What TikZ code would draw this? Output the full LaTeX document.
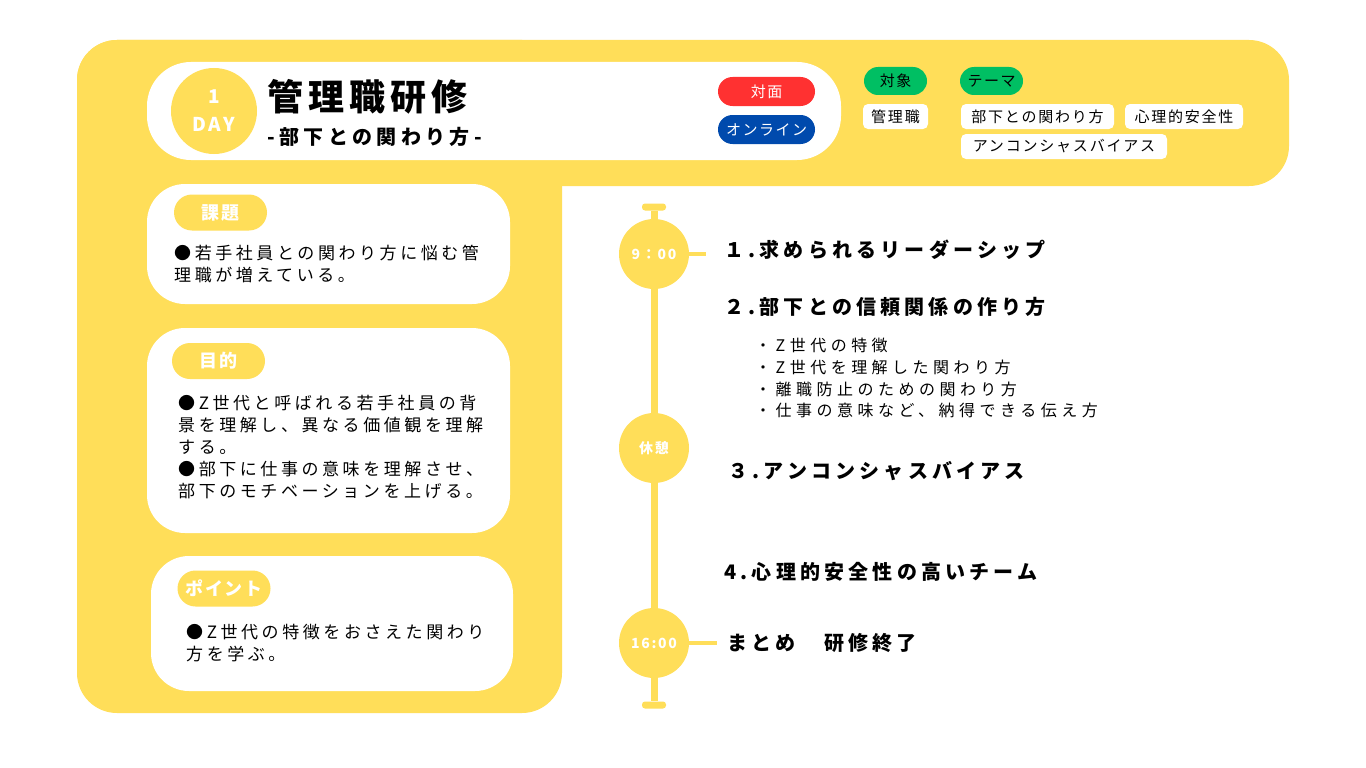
\documentclass[tikz,border=0pt]{standalone}
\usepackage{fontspec}
\setmainfont{Noto Sans CJK JP}
\newcommand\lsp[1]{\addfontfeatures{LetterSpace=#1}}
\newcommand\fsz[1]{\fontsize{#1}{#1}\selectfont}
\definecolor{ylw}{HTML}{FFDE59}
\definecolor{bdgred}{HTML}{FF3131}
\definecolor{bdgblue}{HTML}{004AAD}
\definecolor{bdggreen}{HTML}{00BF63}
\begin{document}
\begin{tikzpicture}[x=1pt,y=-1pt,
 panel/.style={fill=white, rounded corners=38pt, inner sep=0},
 ytag/.style={fill=ylw, rounded corners=18pt, inner sep=0, minimum width=93pt, minimum height=36pt, text=white, font=\fsz{18}\bfseries\lsp{10}},
 body/.style={anchor=north west, inner sep=0, align=left, font=\fontsize{17}{22}\selectfont\lsp{21}},
 daytxt/.style={inner sep=0, text=white, font=\fsz{19}\bfseries\lsp{15}},
 badge/.style={rounded corners=14.5pt, minimum width=97pt, minimum height=29pt, inner sep=0, text=white, font=\fsz{15}\lsp{10}},
 gtag/.style={fill=bdggreen, rounded corners=14pt, minimum width=63pt, minimum height=28pt, inner sep=0, font=\fsz{15}\lsp{10}},
 wtag/.style={fill=white, rounded corners=5pt, minimum height=25pt, inner sep=0, font=\fsz{15}\lsp{12}},
 capbar/.style={fill=ylw, rounded corners=3pt, minimum width=24pt, minimum height=7pt, inner sep=0},
 tcirc/.style={circle, fill=ylw, minimum size=70pt, inner sep=0, text=white, font=\fsz{14}\bfseries\lsp{12}},
 tline/.style={draw=ylw, line width=7pt},
 tconn/.style={draw=ylw, line width=3.5pt},
 item/.style={anchor=west, inner sep=0, font=\fsz{20}\bfseries\lsp{21}}
]
\useasboundingbox (0,0) rectangle (1366,768);
\fill[white] (0,0) rectangle (1366,768);
% background
\fill[ylw, rounded corners=40pt] (77,40) rectangle (1289,186);
\fill[ylw, rounded corners=40pt] (77,40) rectangle (562,713);
% header
\node[panel, rounded corners=44pt, minimum width=694pt, minimum height=98pt] (hdr) at (494,111) {};
\node[circle, fill=ylw, minimum size=86pt, inner sep=0] (day) at (214,111) {};
\node[daytxt] (one) at (214,97) {1};
\node[daytxt] (dayw) at (214,124) {DAY};
\node[anchor=west, inner sep=0, font=\fsz{36}\bfseries\lsp{14}] (title) at (267,97) {管理職研修};
\node[anchor=west, inner sep=0, font=\fsz{20}\bfseries\lsp{22}] (sub) at (267,137) {-部下との関わり方-};
\node[badge, fill=bdgred] (face) at (766.5,91.5) {対面};
\node[badge, fill=bdgblue] (online) at (766.5,129.5) {オンライン};
% target / theme
\node[gtag] (tgt) at (895.5,81) {対象};
\node[gtag] (thm) at (991.5,81) {テーマ};
\node[wtag, minimum width=65pt] (w1) at (895.5,116.5) {管理職};
\node[wtag, minimum width=153pt] (w2) at (1037.5,116.5) {部下との関わり方};
\node[wtag, minimum width=118pt] (w3) at (1184,116.5) {心理的安全性};
\node[wtag, minimum width=206pt] (w4) at (1064,146.5) {アンコンシャスバイアス};
% left panels
\node[panel, minimum width=363pt, minimum height=120pt] (pA) at (328.5,244) {};
\node[ytag] (tA) at (220.5,212.5) {課題};
\node[body] (bA) at (174,244.5) {●若手社員との関わり方に悩む管\\理職が増えている。};
\node[panel, minimum width=363pt, minimum height=205pt] (pB) at (328.5,430.5) {};
\node[ytag] (tB) at (218.5,361) {目的};
\node[body] (bB) at (178,394.5) {●Z世代と呼ばれる若手社員の背\\景を理解し、異なる価値観を理解\\する。\\●部下に仕事の意味を理解させ、\\部下のモチベーションを上げる。};
\node[panel, minimum width=362pt, minimum height=135pt] (pC) at (332,623.5) {};
\node[ytag] (tC) at (224,588.5) {ポイント};
\node[body] (bC) at (186,623.5) {●Z世代の特徴をおさえた関わり\\方を学ぶ。};
% timeline
\node[capbar] (capT) at (654,207) {};
\node[capbar] (capB) at (654,705) {};
\node[tcirc] (c1) at (654,254) {9：00};
\node[tcirc] (c2) at (654,448) {休憩};
\node[tcirc] (c3) at (654,643) {16:00};
\draw[tline] (capT) -- (c1) (c1) -- (c2) (c2) -- (c3) (c3) -- (capB);
\coordinate (e1) at (706,254);
\coordinate (e3) at (717,643);
\draw[tconn] (c1) -- (e1);
\draw[tconn] (c3) -- (e3);
% items
\node[item] (i1) at (724,250) {１.求められるリーダーシップ};
\node[item] (i2) at (724,307) {２.部下との信頼関係の作り方};
\node[anchor=north west, inner sep=0, align=left, font=\fontsize{16}{21.7}\selectfont\lsp{28}] (sub2) at (755,338) {・Z世代の特徴\\・Z世代を理解した関わり方\\・離職防止のための関わり方\\・仕事の意味など、納得できる伝え方};
\node[item] (i3) at (728,471) {３.アンコンシャスバイアス};
\node[item] (i4) at (724,572) {4.心理的安全性の高いチーム};
\node[item] (i5) at (727,643) {まとめ　研修終了};
\end{tikzpicture}
\end{document}
